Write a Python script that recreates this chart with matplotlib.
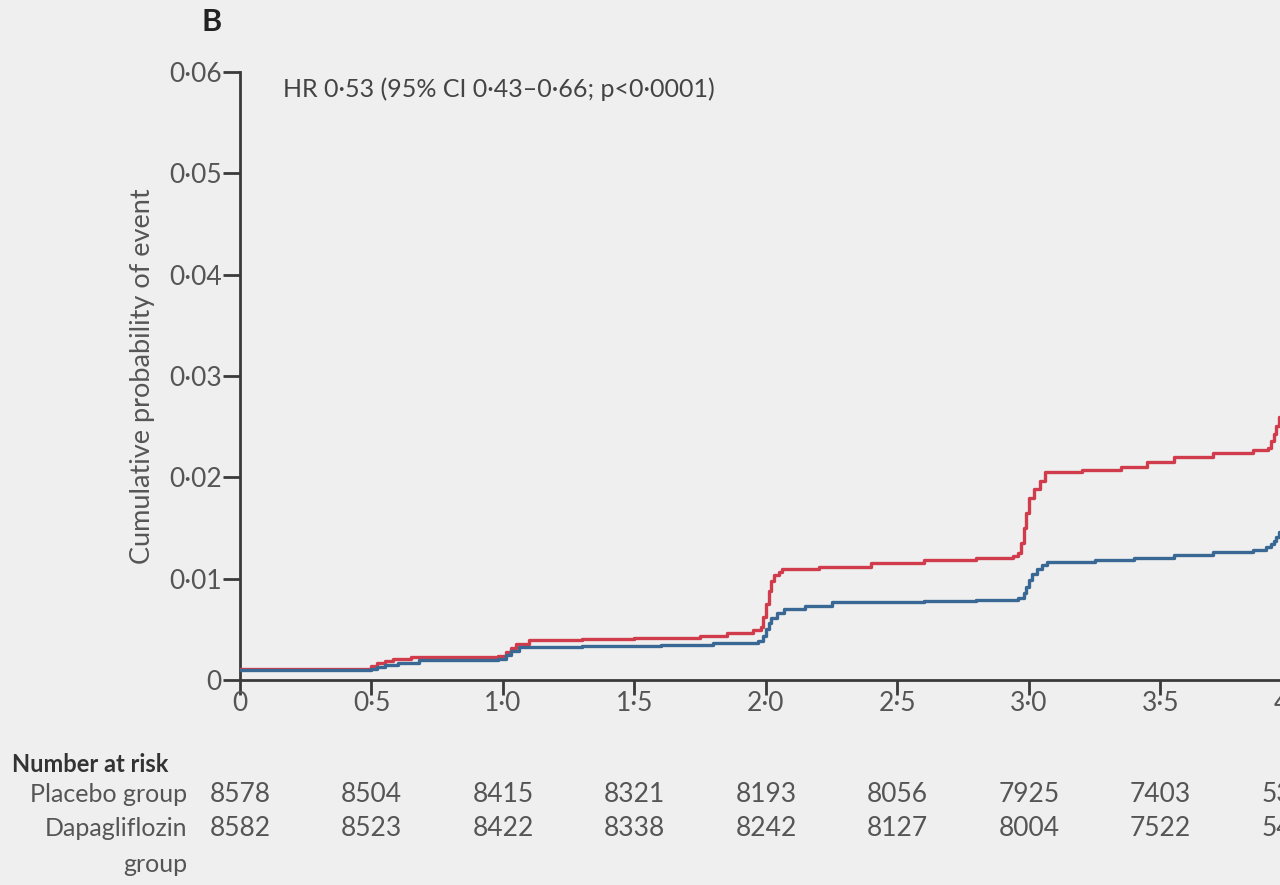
import numpy as np
import matplotlib
matplotlib.use("Agg")
import matplotlib.pyplot as plt
from matplotlib.transforms import blended_transform_factory

plt.rcParams['font.family'] = ['Lato', 'DejaVu Sans']

# Kaplan-Meier style step data (years, cumulative probability)
placebo_t = [0.0, 0.27, 0.5, 0.52, 0.55, 0.58, 0.65, 0.98, 1.01, 1.03, 1.05, 1.1, 1.3, 1.5,
             1.75, 1.85, 1.95, 1.98, 1.99, 2.0, 2.01, 2.02, 2.03, 2.05, 2.06, 2.2, 2.4, 2.6,
             2.8, 2.94, 2.96, 2.97, 2.98, 2.99, 3.0, 3.02, 3.04, 3.06, 3.2, 3.35, 3.45, 3.55,
             3.7, 3.85, 3.91, 3.92, 3.93, 3.94, 3.95, 3.96, 3.97, 4.05]
placebo_p = [0.0011, 0.0011, 0.0014, 0.0017, 0.0019, 0.0021, 0.0023, 0.0024, 0.0028, 0.0032,
             0.0036, 0.0039, 0.0040, 0.0041, 0.0043, 0.0046, 0.0049, 0.0052, 0.0062, 0.0075,
             0.0088, 0.0098, 0.0104, 0.0107, 0.0110, 0.0112, 0.0115, 0.0118, 0.0120, 0.0122,
             0.0125, 0.0135, 0.0150, 0.0165, 0.0180, 0.0188, 0.0196, 0.0205, 0.0207, 0.0210,
             0.0215, 0.0220, 0.0224, 0.0227, 0.0229, 0.0236, 0.0243, 0.0251, 0.0260, 0.0270,
             0.0280, 0.0300]

dapa_t = [0.0, 0.5, 0.52, 0.55, 0.6, 0.68, 0.98, 1.01, 1.03, 1.06, 1.3, 1.6, 1.8, 1.97, 1.99,
          2.0, 2.01, 2.02, 2.04, 2.07, 2.15, 2.25, 2.6, 2.8, 2.96, 2.98, 2.99, 3.0, 3.01, 3.03,
          3.05, 3.07, 3.25, 3.4, 3.55, 3.7, 3.85, 3.9, 3.92, 3.93, 3.94, 3.95, 3.96, 3.97, 4.05]
dapa_p = [0.0010, 0.0011, 0.0013, 0.0015, 0.0017, 0.0020, 0.0021, 0.0025, 0.0029, 0.0033,
          0.0034, 0.0035, 0.0037, 0.0038, 0.0043, 0.0050, 0.0056, 0.0061, 0.0066, 0.0070,
          0.0073, 0.0077, 0.0078, 0.0079, 0.0081, 0.0086, 0.0092, 0.0099, 0.0105, 0.0110,
          0.0113, 0.0116, 0.0118, 0.0120, 0.0123, 0.0126, 0.0128, 0.0131, 0.0134, 0.0137,
          0.0141, 0.0146, 0.0151, 0.0157, 0.0170]

x_ticks = [0, 0.5, 1.0, 1.5, 2.0, 2.5, 3.0, 3.5, 4.0]
x_ticklabels = ['0', '0·5', '1·0', '1·5', '2·0', '2·5', '3·0', '3·5', '4·0']
y_ticks = [0, 0.01, 0.02, 0.03, 0.04, 0.05, 0.06]
y_ticklabels = ['0', '0·01', '0·02', '0·03', '0·04', '0·05', '0·06']

risk_placebo = [8578, 8504, 8415, 8321, 8193, 8056, 7925, 7403, 5339]
risk_dapa = [8582, 8523, 8422, 8338, 8242, 8127, 8004, 7522, 5424]

bg = '#efefef'
red = '#d03c4b'
blue = '#3a6894'
axis_col = '#3a3a3a'
text_col = '#555555'

W, H = 1280, 885
fig = plt.figure(figsize=(W / 100, H / 100), dpi=100, facecolor=bg)

# axes placed in pixel units, running past the right edge like the cropped original
x0_px, px_per_year = 240, 263
xmax = 4.3
y0_px, ytop_px = 680, 72
ax = fig.add_axes([x0_px / W, 1 - y0_px / H, px_per_year * xmax / W, (y0_px - ytop_px) / H])
ax.set_facecolor(bg)

ax.step(placebo_t, placebo_p, where='post', color=red, lw=2.4, zorder=3)
ax.step(dapa_t, dapa_p, where='post', color=blue, lw=2.4, zorder=3)

ax.set_xlim(0, xmax)
ax.set_ylim(0, 0.06)
ax.set_xticks(x_ticks)
ax.set_xticklabels(x_ticklabels)
ax.set_yticks(y_ticks)
ax.set_yticklabels(y_ticklabels)

for s in ['top', 'right']:
    ax.spines[s].set_visible(False)
for s in ['left', 'bottom']:
    ax.spines[s].set_color(axis_col)
    ax.spines[s].set_linewidth(2)

ax.tick_params(axis='x', direction='out', length=11, width=2, color=axis_col,
               labelsize=19, labelcolor=text_col, pad=-3)
ax.tick_params(axis='y', direction='out', length=12, width=2, color=axis_col,
               labelsize=19, labelcolor=text_col, pad=1)

ax.set_ylabel('Cumulative probability of event', fontsize=19.5, color=text_col, labelpad=10)

ax.text(0.165, 0.0583, 'HR 0·53 (95% CI 0·43–0·66; p<0·0001)', fontsize=18,
        color='#444444', va='center', ha='left')

fig.text(212 / W, 1 - 22 / H, 'B', fontsize=22, fontweight='bold', color='#222222',
         ha='center', va='center')

# number at risk table
fig.text(12 / W, 1 - 765 / H, 'Number at risk', fontsize=17, fontweight='bold',
         color='#333333', ha='left', va='center')
fig.text(187 / W, 1 - 795 / H, 'Placebo group', fontsize=18, color=text_col,
         ha='right', va='center')
fig.text(187 / W, 1 - 828 / H, 'Dapagliflozin', fontsize=18, color=text_col,
         ha='right', va='center')
fig.text(187 / W, 1 - 865 / H, 'group', fontsize=18, color=text_col,
         ha='right', va='center')

trans = blended_transform_factory(ax.transData, fig.transFigure)
for t, a, b in zip(x_ticks, risk_placebo, risk_dapa):
    ax.text(t, 1 - 795 / H, str(a), transform=trans, fontsize=19, color=text_col,
            ha='center', va='center', clip_on=False)
    ax.text(t, 1 - 828 / H, str(b), transform=trans, fontsize=19, color=text_col,
            ha='center', va='center', clip_on=False)

fig.savefig('out.png', dpi=100, facecolor=bg)
